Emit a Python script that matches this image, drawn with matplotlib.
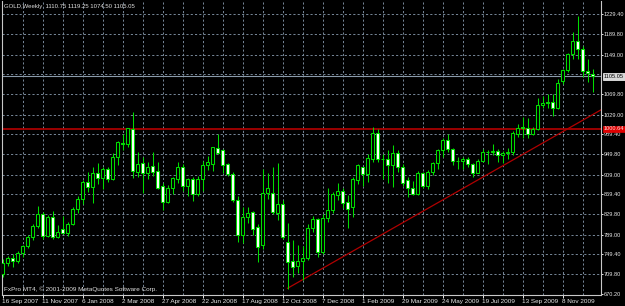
import matplotlib
matplotlib.use("Agg")
import matplotlib.pyplot as plt
import matplotlib.transforms as mtransforms
import numpy as np

# ---------------- data (weekly GOLD) ----------------
opens = [710, 732, 743, 737, 752, 766, 785, 807, 831, 786, 824, 784, 800, 792, 811, 841,
         860, 894, 884, 913, 903, 921, 901, 945, 973, 971, 1001, 915, 932, 913, 926, 917,
         886, 855, 883, 901, 925, 886, 901, 870, 901, 928, 931, 963, 958, 930, 910, 858,
         788, 824, 835, 805, 768, 872, 872, 832, 850, 775, 736, 726, 736, 742, 802, 820,
         754, 822, 838, 869, 877, 855, 844, 898, 924, 910, 940, 993, 941, 940, 928, 952,
         925, 898, 882, 870, 913, 886, 915, 932, 958, 978, 960, 937, 936, 940, 931, 912,
         937, 954, 955, 956, 949, 953, 955, 990, 1005, 1003, 990, 1001, 1048, 1055, 1055, 1043,
         1097, 1118, 1151, 1177, 1160, 1117, 1110.75]
highs = [740, 746, 750, 756, 768, 788, 810, 846, 834, 828, 837, 808, 827, 815, 845, 866,
         898, 915, 925, 932, 925, 925, 953, 976, 990, 1003, 1034, 955, 945, 935, 955, 935,
         892, 888, 905, 935, 930, 903, 905, 906, 937, 946, 965, 991, 960, 933, 915, 867,
         845, 845, 837, 810, 921, 912, 925, 932, 858, 812, 778, 768, 767, 810, 826, 822,
         830, 882, 875, 892, 882, 868, 904, 930, 925, 950, 1005, 1000, 950, 958, 968, 958,
         930, 905, 897, 916, 915, 918, 935, 960, 983, 990, 963, 945, 944, 945, 933, 940,
         960, 958, 970, 960, 957, 962, 997, 1010, 1025, 1022, 1004, 1062, 1066, 1070, 1070, 1100,
         1120, 1153, 1195, 1227, 1166, 1140, 1119.25]
lows = [704, 726, 725, 732, 745, 762, 778, 803, 780, 784, 780, 782, 790, 786, 808, 833,
        851, 874, 852, 890, 880, 895, 898, 929, 959, 964, 903, 905, 872, 900, 907, 880,
        838, 853, 870, 893, 876, 866, 856, 866, 876, 919, 917, 950, 913, 907, 855, 775,
        772, 812, 788, 735, 760, 860, 830, 818, 780, 681, 704, 712, 698, 738, 795, 745,
        750, 815, 832, 858, 842, 802, 825, 890, 886, 895, 935, 935, 900, 893, 884, 915,
        886, 865, 868, 868, 882, 880, 909, 920, 945, 955, 928, 921, 920, 925, 905, 912,
        935, 930, 948, 935, 933, 941, 948, 985, 982, 982, 988, 998, 1042, 1043, 1027, 1040,
        1090, 1115, 1140, 1140, 1105, 1095, 1074.50]
closes = [732, 743, 737, 752, 766, 785, 807, 831, 786, 824, 784, 795, 792, 811, 841, 860,
          894, 884, 913, 903, 921, 901, 945, 974, 970, 1003, 916, 930, 913, 925, 915, 883,
          855, 883, 903, 925, 886, 901, 870, 901, 928, 935, 965, 953, 928, 910, 858, 788,
          824, 832, 801, 765, 872, 882, 834, 850, 784, 735, 724, 736, 743, 802, 820, 754,
          822, 838, 870, 877, 853, 841, 900, 928, 910, 942, 992, 941, 940, 928, 952, 924,
          893, 882, 870, 912, 886, 915, 932, 958, 978, 960, 937, 936, 940, 931, 912, 937,
          954, 955, 956, 949, 953, 955, 992, 1003, 1003, 990, 1001, 1048, 1053, 1053, 1043, 1093,
          1118, 1151, 1177, 1161, 1116, 1112, 1105.05]

date_labels = ["16 Sep 2007", "11 Nov 2007", "6 Jan 2008", "2 Mar 2008", "27 Apr 2008",
               "22 Jun 2008", "17 Aug 2008", "12 Oct 2008", "7 Dec 2008", "1 Feb 2009",
               "29 Mar 2009", "24 May 2009", "19 Jul 2009", "13 Sep 2009", "8 Nov 2009"]
label_every = 8
grid_every = 4

price_ticks = [1229.40, 1189.80, 1149.00, 1069.80, 1029.00, 989.40, 949.80, 909.00,
               869.40, 829.80, 789.00, 749.40, 709.80, 670.20]
price_grid = [1229.40, 1189.80, 1149.00, 1109.40, 1069.80, 1029.00, 989.40, 949.80,
              909.00, 869.40, 829.80, 789.00, 749.40, 709.80]

hline_level = 1000.64
bid_price = 1105.05
trend_x = [57, 120]
trend_y = [681.4, 1040.0]

header = "GOLD,Weekly  1110.75 1119.25 1074.50 1105.05"
footer = "FxPro MT4, \u00a9 2001-2009 MetaQuotes Software Corp."

# ---------------- styling ----------------
W, H = 625, 306
FONT = "Liberation Sans"
FS = 4.6
FSY = 4.1
GREEN = "#00DD00"
GRIDC = "#778899"
RED = "#A80000"

plt.rcParams["font.family"] = [FONT, "DejaVu Sans"]

fig = plt.figure(figsize=(W / 100, H / 100), dpi=100, facecolor="black")
left_px, right_px, top_px, bot_px = 2, 601, 1, 294.5
ax = fig.add_axes([left_px / W, (H - bot_px) / H, (right_px - left_px) / W, (bot_px - top_px) / H])
ax.set_facecolor("black")


def px_to_bar(px):
    return (px - 2.5) / 5.0


ax.set_xlim(px_to_bar(left_px), px_to_bar(right_px))
ax.set_ylim(669.0, 1256.0)

n = len(opens)
idx = np.arange(n)
o = np.array(opens, float); h = np.array(highs, float)
l = np.array(lows, float); c = np.array(closes, float)

# grid
for gx in range(grid_every, n, grid_every):
    ax.axvline(gx, color=GRIDC, lw=0.7, ls=(0, (2.2, 2.2)), zorder=1)
for gy in price_grid:
    ax.axhline(gy, color=GRIDC, lw=0.7, ls=(0, (2.2, 2.2)), zorder=1)

# red horizontal line + trend line
ax.axhline(hline_level, color=RED, lw=1.3, zorder=2)
ax.plot(trend_x, trend_y, color="#B00000", lw=0.9, zorder=2)

# bid line
ax.axhline(bid_price, color="#8A9AAA", lw=0.8, zorder=2)

# candles
ax.vlines(idx, l, h, color=GREEN, lw=0.75, zorder=3)
bottoms = np.minimum(o, c)
heights = np.maximum(np.abs(c - o), 0.6)
faces = ["black" if cc >= oo else "white" for oo, cc in zip(o, c)]
ax.bar(idx, heights, bottom=bottoms, width=0.6, color=faces, edgecolor=GREEN,
       linewidth=0.75, zorder=4)

# axes styling
ax.spines["top"].set_visible(False)
for s in ["left", "right", "bottom"]:
    ax.spines[s].set_color("#C8C8C8")
    ax.spines[s].set_linewidth(0.8)

ax.yaxis.tick_right()
ax.set_yticks(price_ticks)
ax.set_yticklabels([f"{v:.2f}" for v in price_ticks])
ax.tick_params(axis="y", colors="#E8E8E8", length=1.5, width=0.7, pad=0.6,
               labelsize=FSY, direction="out")

xt = list(range(0, n, label_every))[:len(date_labels)]
ax.set_xticks(xt)
ax.set_xticklabels(date_labels)
ax.tick_params(axis="x", colors="#E8E8E8", length=2.2, width=0.7, pad=1.0,
               labelsize=FS, direction="out")
for t in ax.get_xticklabels():
    t.set_horizontalalignment("left")

# right side price boxes
trans = mtransforms.blended_transform_factory(ax.transAxes, ax.transData)
ax.text(1.0 + 3.0 / 599, bid_price, f"{bid_price:.2f}", transform=trans, fontsize=FSY,
        color="black", va="center", ha="left", zorder=6, clip_on=False,
        bbox=dict(boxstyle="square,pad=0.1", facecolor="#D8D8D8", edgecolor="white", lw=0.5))
ax.text(1.0 + 3.0 / 599, hline_level, f"{hline_level:.2f}", transform=trans, fontsize=FSY,
        color="#FFE0E0", va="center", ha="left", zorder=6, clip_on=False,
        bbox=dict(boxstyle="square,pad=0.1", facecolor="#E00000", edgecolor="#E00000", lw=0.5))

# header and footer
fig.text(4 / W, 1 - 6.2 / H, header, color="#E0E0E0", fontsize=4.3, va="center", ha="left")
fig.text(4 / W, 1 - 289.5 / H, footer, color="#E0E0E0", fontsize=FS, va="center", ha="left")

fig.savefig("out.png", dpi=100, facecolor="black")
